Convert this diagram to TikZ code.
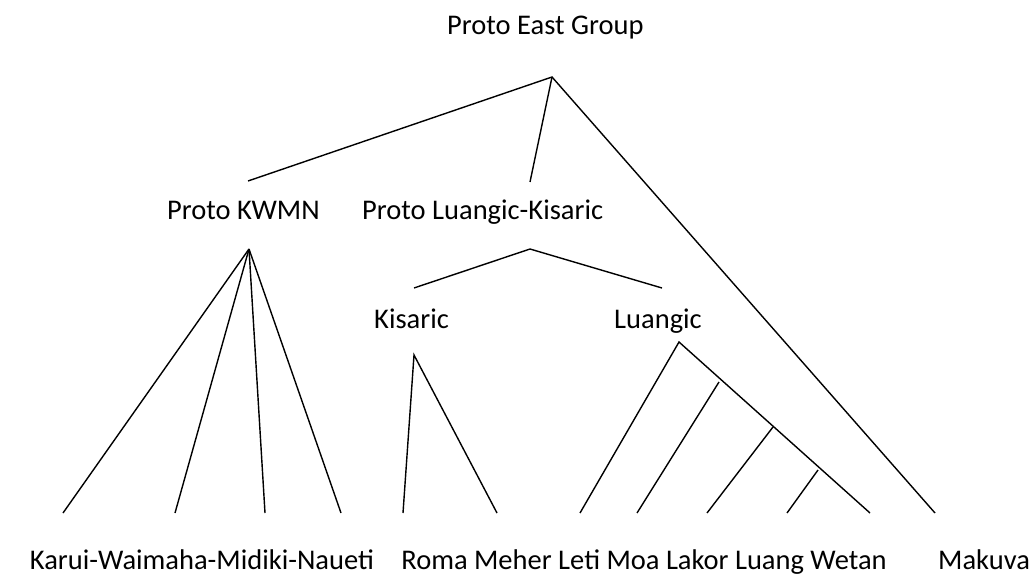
\documentclass[tikz,border=0pt]{standalone}
\usepackage{fontspec}
\setmainfont{Carlito}
\begin{document}
\begin{tikzpicture}[x=1pt,y=-1pt,
  lbl/.style={anchor=base west,inner sep=0pt,font=\fontsize{28.5}{33}\selectfont},
  lblc/.style={lbl,anchor=base},
  edge/.style={line width=1.4pt,line join=miter}]
\useasboundingbox (0,0) rectangle (1032,577);
% labels
\node[lbl] (peg) at (447,35) {Proto East Group};
\node[lbl] (kwmn) at (167,219) {Proto KWMN};
\node[lbl] (plk) at (362,219) {Proto Luangic-Kisaric};
\node[lbl] (kis) at (374,328) {Kisaric};
\node[lbl] (lua) at (614,328) {Luangic};
\node[lblc] (kwmnl) at (202,569) {Karui-Waimaha-Midiki-Naueti};
\node[lblc] (rml) at (644,569) {Roma Meher Leti Moa Lakor Luang Wetan};
\node[lbl] (mak) at (938,569) {Makuva};
% branch points
\coordinate (a0) at (552,77);
\coordinate (a1) at (248,181);
\coordinate (a2) at (530,182);
\coordinate (b0) at (530,249);
\coordinate (b1) at (414,288);
\coordinate (b2) at (662,288);
\coordinate (k0) at (249,249);
\coordinate (s0) at (414,355);
\coordinate (l0) at (679,342);
\coordinate (l1) at (719,382);
\coordinate (l2) at (773,427);
\coordinate (l3) at (818,470);
% leaf ends
\coordinate (e1) at (63,513);
\coordinate (e2) at (175,513);
\coordinate (e3) at (265,513);
\coordinate (e4) at (341,513);
\coordinate (e5) at (403,513);
\coordinate (e6) at (497,513);
\coordinate (e7) at (580,513);
\coordinate (e8) at (637,513);
\coordinate (e9) at (707,513);
\coordinate (e10) at (787,513);
\coordinate (e11) at (870,513);
\coordinate (e12) at (935,513);
% connectors
\draw[edge] (a1) -- (a0) -- (e12);
\draw[edge] (a0) -- (a2);
\draw[edge] (b1) -- (b0) -- (b2);
\foreach \e in {e1,e2,e3,e4} \draw[edge] (k0) -- (\e);
\draw[edge] (e5) -- (s0) -- (e6);
\draw[edge] (e7) -- (l0) -- (e11);
\draw[edge] (l1) -- (e8);
\draw[edge] (l2) -- (e9);
\draw[edge] (l3) -- (e10);
\end{tikzpicture}
\end{document}
